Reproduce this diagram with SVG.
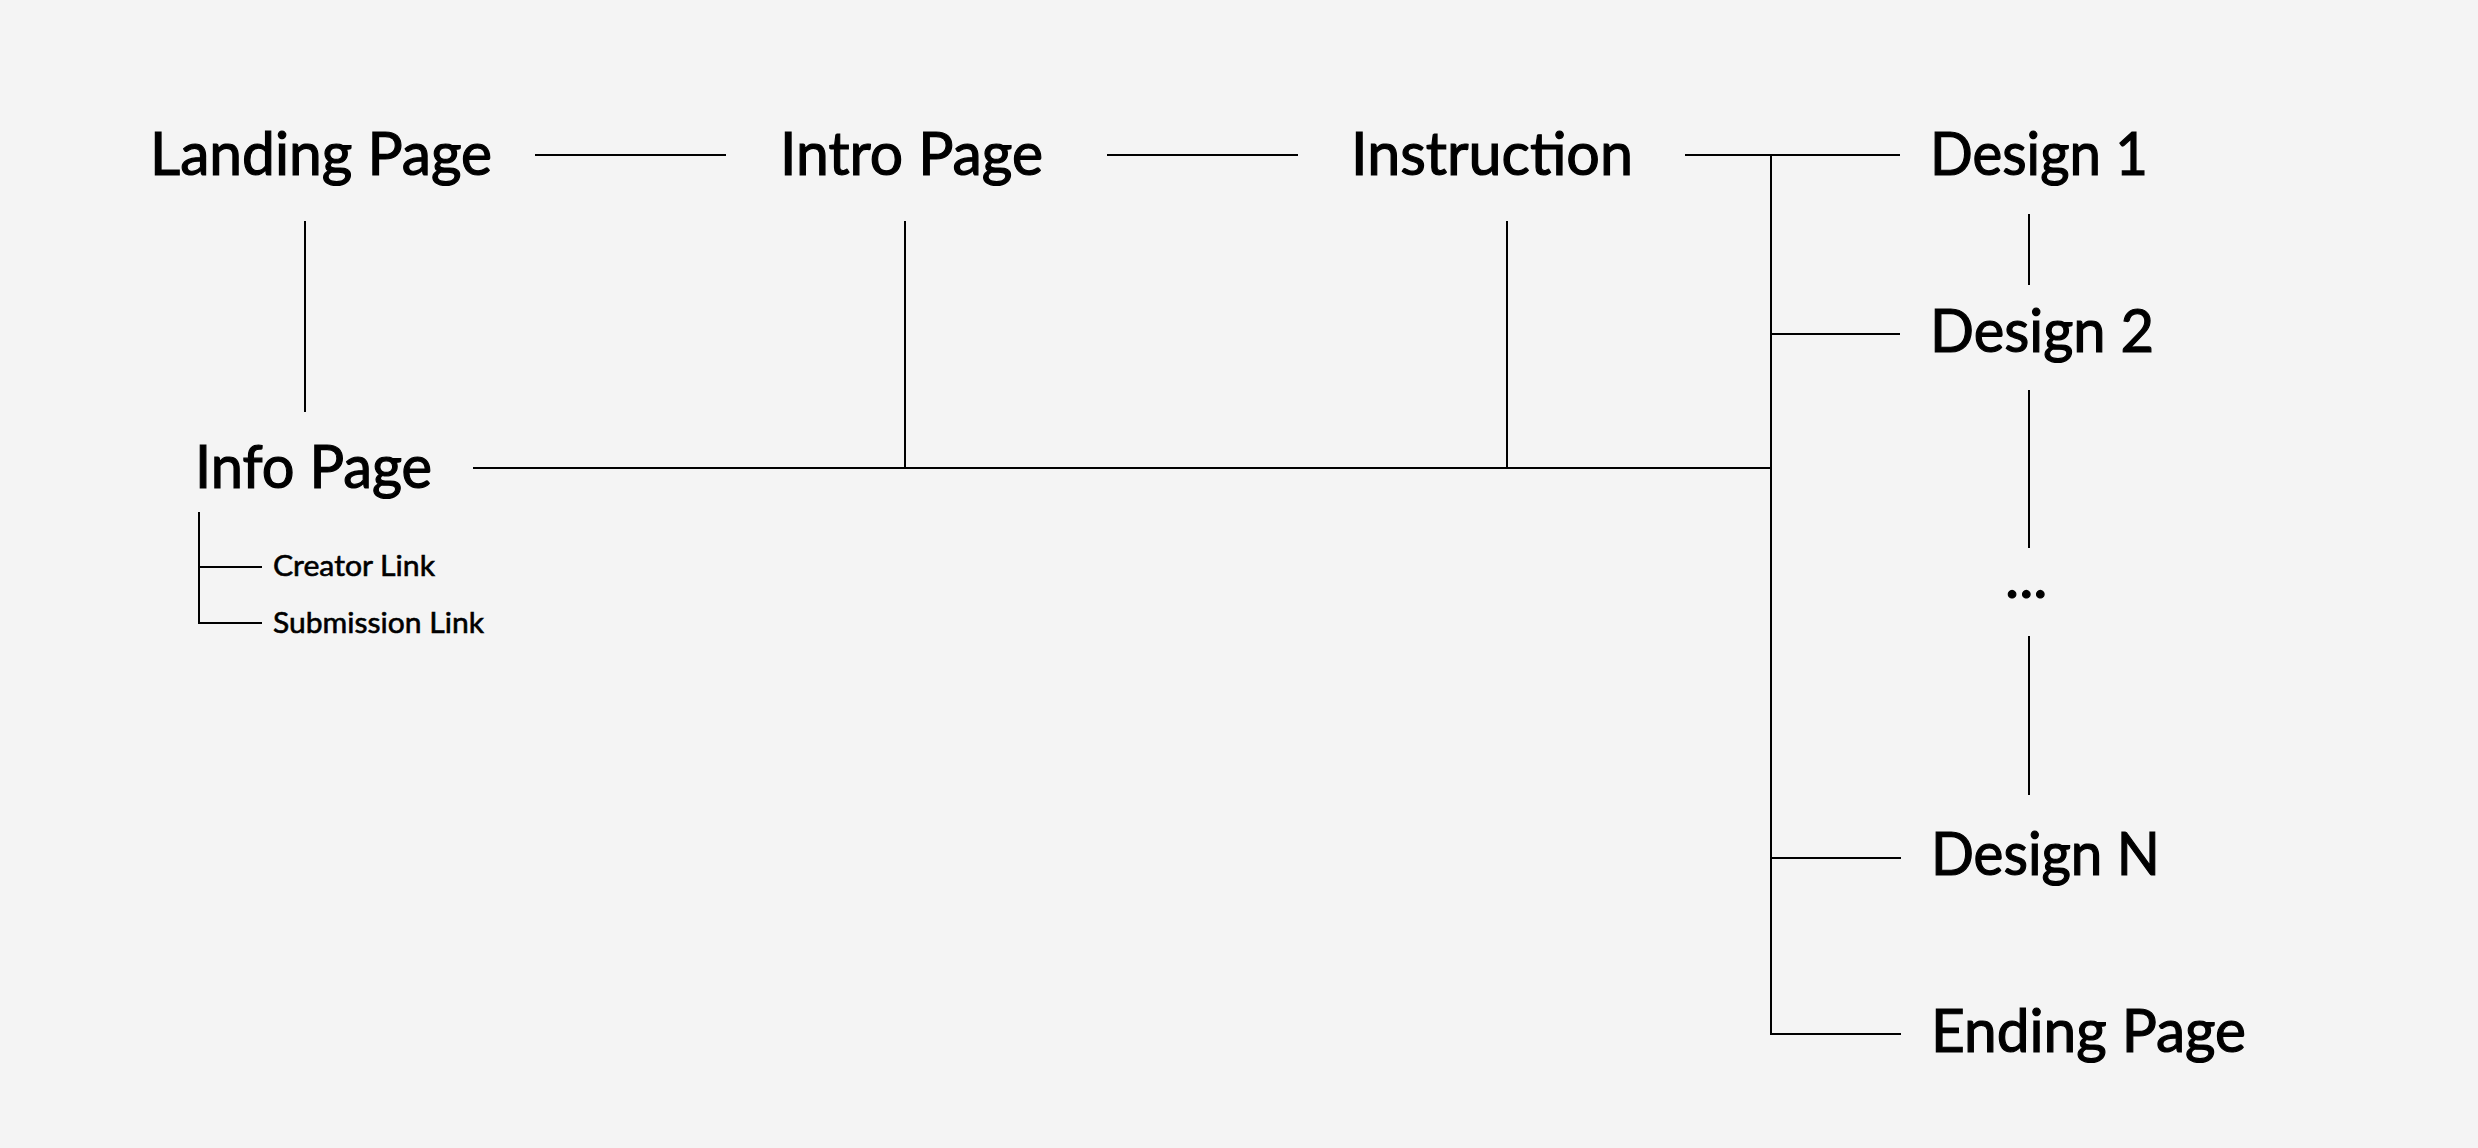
<svg xmlns="http://www.w3.org/2000/svg" width="2478" height="1148" viewBox="0 0 2478 1148">
<style>
.lbl{font-family:Lato,"Liberation Sans",sans-serif;font-size:60px;fill:#000;stroke:#000;stroke-width:1.2px}
.sm{font-family:Lato,"Liberation Sans",sans-serif;font-size:29px;fill:#000;stroke:#000;stroke-width:0.6px}
.c line{stroke:#000;stroke-width:2;fill:none}
</style>
<rect width="2478" height="1148" fill="#f4f4f4"/>
<g class="c" id="connectors">
<line x1="535" y1="155" x2="726" y2="155"/>
<line x1="1107" y1="155" x2="1298" y2="155"/>
<line x1="1685" y1="155" x2="1900" y2="155"/>
<line x1="305" y1="221" x2="305" y2="412"/>
<line x1="905" y1="221" x2="905" y2="468"/>
<line x1="1507" y1="221" x2="1507" y2="468"/>
<line x1="473" y1="468" x2="1771" y2="468"/>
<line x1="1771" y1="155" x2="1771" y2="1034"/>
<line x1="1771" y1="334" x2="1900" y2="334"/>
<line x1="1771" y1="858" x2="1901" y2="858"/>
<line x1="1770" y1="1034" x2="1901" y2="1034"/>
<line x1="2029" y1="214" x2="2029" y2="285"/>
<line x1="2029" y1="390" x2="2029" y2="548"/>
<line x1="2029" y1="636" x2="2029" y2="795"/>
<line x1="199" y1="512" x2="199" y2="623"/>
<line x1="199" y1="567" x2="262" y2="567"/>
<line x1="198" y1="623" x2="262" y2="623"/>
</g>
<g id="landing"><text class="lbl" x="150" y="175" textLength="342" lengthAdjust="spacingAndGlyphs">Landing Page</text></g>
<g id="intro"><text class="lbl" x="780" y="175" textLength="263" lengthAdjust="spacingAndGlyphs">Intro Page</text></g>
<g id="instruction"><text class="lbl" x="1351" y="175" textLength="282" lengthAdjust="spacingAndGlyphs">Instruction</text></g>
<g id="design1"><text class="lbl" x="1930" y="175" textLength="218" lengthAdjust="spacingAndGlyphs">Design 1</text></g>
<g id="design2"><text class="lbl" x="1930" y="352" textLength="224" lengthAdjust="spacingAndGlyphs">Design 2</text></g>
<g id="ellipsis"><text class="lbl" x="2005" y="598">...</text></g>
<g id="designN"><text class="lbl" x="1931" y="875" textLength="229" lengthAdjust="spacingAndGlyphs">Design N</text></g>
<g id="ending"><text class="lbl" x="1931" y="1052" textLength="315" lengthAdjust="spacingAndGlyphs">Ending Page</text></g>
<g id="info"><text class="lbl" x="195" y="488" textLength="237" lengthAdjust="spacingAndGlyphs">Info Page</text></g>
<g id="creator"><text class="sm" x="273" y="576" textLength="162" lengthAdjust="spacingAndGlyphs">Creator Link</text></g>
<g id="submission"><text class="sm" x="273" y="633" textLength="211" lengthAdjust="spacingAndGlyphs">Submission Link</text></g>
</svg>
